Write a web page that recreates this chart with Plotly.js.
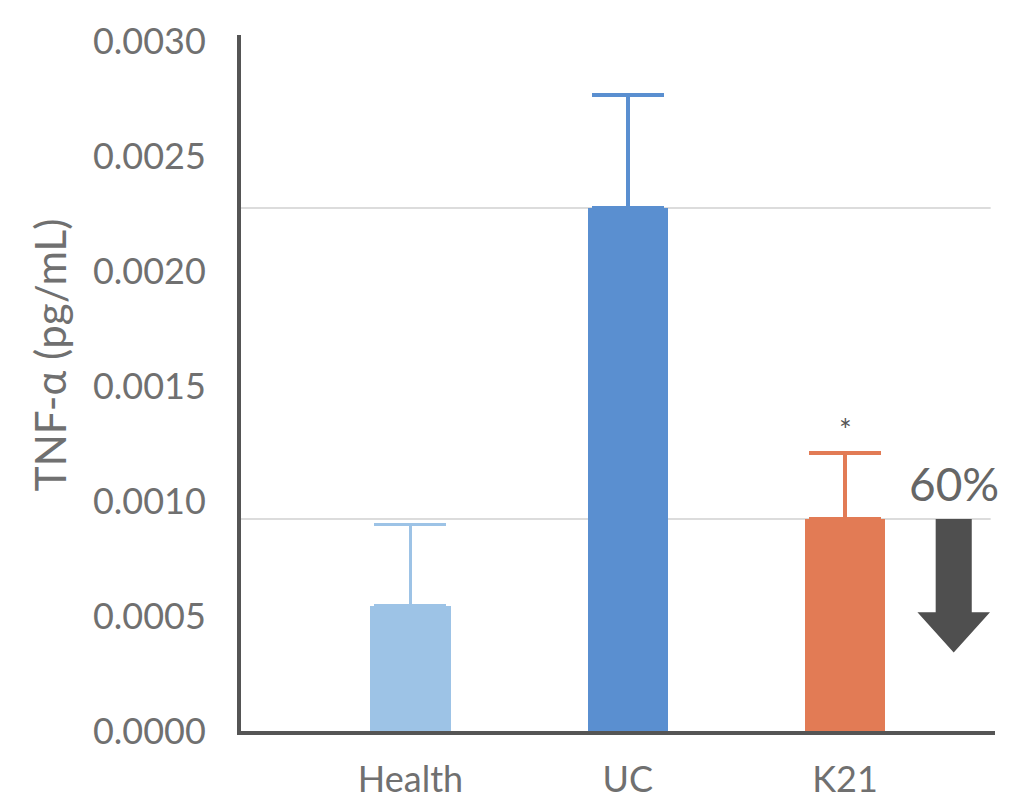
<!DOCTYPE html>
<html>
<head>
<meta charset="utf-8">
<script src="https://cdn.plot.ly/plotly-3.0.1.min.js"></script>
<style>html,body{margin:0;padding:0;background:#fff;}#chart{width:1016px;height:807px;}</style>
</head>
<body>
<div id="chart"></div>
<script>
// Data
const categories = ["Health", "UC", "K21"];
const values = [0.000544, 0.002277, 0.000923];
const errorsUp = [0.000356, 0.000492, 0.000287];
const barColors = ["#9dc3e6", "#5a8fd0", "#e27b55"];
const yTickVals = [0, 0.0005, 0.0010, 0.0015, 0.0020, 0.0025, 0.0030];
const yTickText = ["0.0000", "0.0005", "0.0010", "0.0015", "0.0020", "0.0025", "0.0030"];
const yTitle = "TNF-α (pg/mL)";
const reductionLabel = "60%";
const significanceLabel = "*";

const FONT = "Lato, 'Open Sans', sans-serif";
const TXT = "#707070";

const traces = categories.map((c, i) => ({
  type: "bar",
  x: [i],
  y: [values[i]],
  width: 0.37,
  marker: {color: barColors[i], line: {width: 0}},
  error_y: {type: "data", symmetric: false, array: [errorsUp[i]], arrayminus: [0],
            color: barColors[i], thickness: 3.5, width: 36},
  hoverinfo: "skip",
  showlegend: false
}));

const k21 = 2;
const k21Val = values[k21];
const ucVal = values[1];
const xRight = 2.67;
const shapes = [
  {type: "line", layer: "below", xref: "x", yref: "y", x0: -0.78, x1: xRight, y0: ucVal, y1: ucVal,
   line: {color: "#dcdcdc", width: 2}},
  {type: "line", layer: "below", xref: "x", yref: "y", x0: -0.78, x1: xRight, y0: k21Val, y1: k21Val,
   line: {color: "#dcdcdc", width: 2}},
  // down arrow
  {type: "path", xref: "x", yref: "y", fillcolor: "#4f4f4f", line: {width: 0},
   path: `M ${k21+0.417} ${k21Val} L ${k21+0.583} ${k21Val} L ${k21+0.583} ${k21Val*0.56} L ${k21+0.667} ${k21Val*0.56} L ${k21+0.5} ${k21Val*0.37} L ${k21+0.333} ${k21Val*0.56} L ${k21+0.417} ${k21Val*0.56} Z`}
];

const annotations = [
  {xref: "x", yref: "y", x: k21, y: values[k21] + errorsUp[k21], text: significanceLabel, showarrow: false,
   yanchor: "bottom", yshift: 4, font: {family: FONT, size: 30, color: "#555"}},
  {xref: "x", yref: "y", x: k21 + 0.5, y: k21Val, text: reductionLabel, showarrow: false,
   yanchor: "bottom", yshift: 6, font: {family: FONT, size: 46, color: "#666"}},
  {xref: "paper", yref: "paper", x: 0, y: 0.54, xshift: -191, xanchor: "center", yanchor: "middle",
   text: yTitle, textangle: -90, showarrow: false, font: {family: FONT, size: 42, color: TXT}}
];

const layout = {
  width: 1016, height: 807,
  paper_bgcolor: "#fff", plot_bgcolor: "#fff",
  margin: {l: 241, r: 21, t: 35, b: 76},
  bargap: 0,
  font: {family: FONT, color: TXT},
  xaxis: {
    type: "linear", range: [-0.78, 2.69], tickvals: [0, 1, 2], ticktext: categories,
    showgrid: false, zeroline: false, showline: true, linecolor: "#555", linewidth: 4,
    ticks: "", tickfont: {family: FONT, size: 36, color: TXT}, ticklabelstandoff: 14
  },
  yaxis: {
    range: [0, 0.00303], tickvals: yTickVals, ticktext: yTickText,
    showgrid: false, zeroline: false, showline: true, linecolor: "#555", linewidth: 4,
    ticks: "", tickfont: {family: FONT, size: 36, color: TXT}, ticklabelstandoff: 24
  },
  shapes: shapes,
  annotations: annotations
};

Plotly.newPlot("chart", traces, layout, {displayModeBar: false, staticPlot: true});
</script>
</body>
</html>
